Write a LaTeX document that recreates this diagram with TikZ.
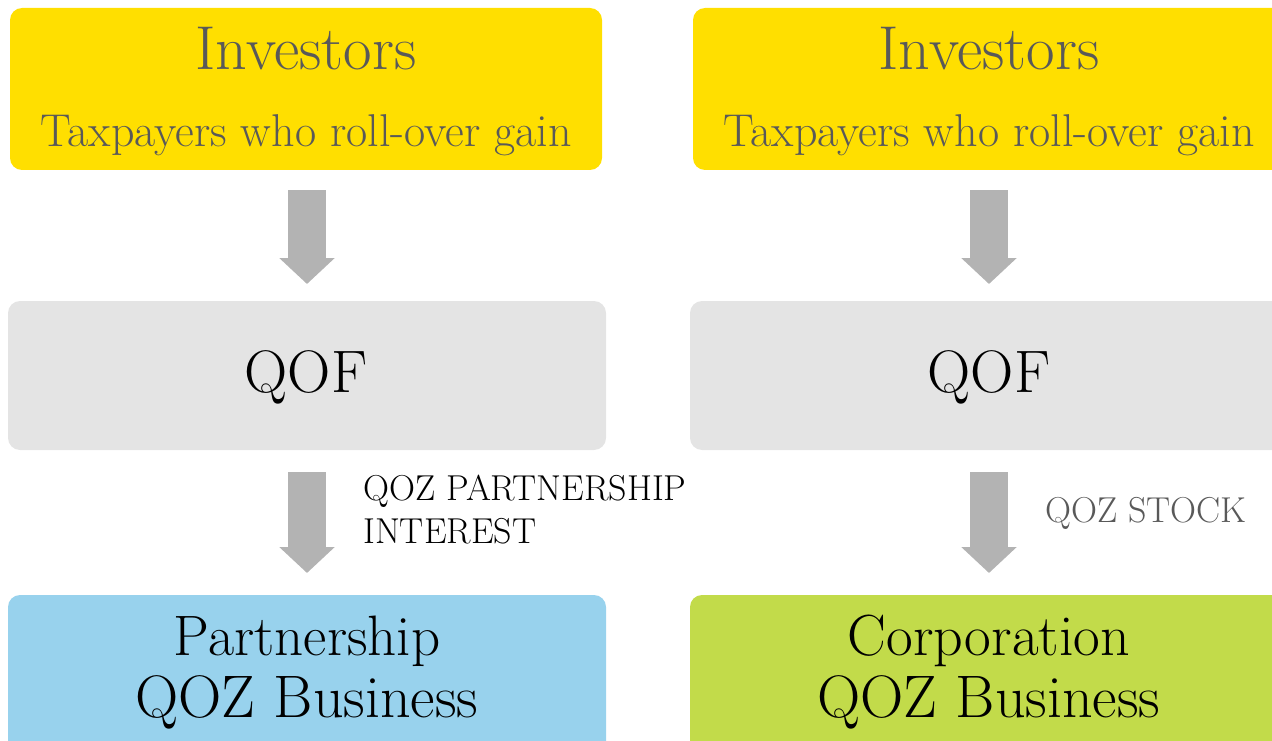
\documentclass[tikz,border=0pt]{standalone}
\usetikzlibrary{arrows.meta,calc}
\definecolor{ylw}{HTML}{FFDF00}
\definecolor{boxgray}{HTML}{E4E4E4}
\definecolor{boxblue}{HTML}{98D2ED}
\definecolor{boxgreen}{HTML}{C2DB4A}
\definecolor{txtgray}{HTML}{595959}
\definecolor{arrgray}{HTML}{B3B3B3}
\begin{document}
\begin{tikzpicture}[x=1pt,y=-1pt,
  box/.style={rounded corners=12pt, inner sep=0pt, outer sep=0pt, draw=none},
  bigtxt/.style={anchor=base, inner sep=0pt, font=\fontsize{60}{62}\selectfont},
  midtxt/.style={anchor=base, inner sep=0pt, font=\fontsize{46}{50}\selectfont},
  smalltxt/.style={anchor=base west, inner sep=0pt, font=\fontsize{36}{43}\selectfont},
  bigarr/.style={draw=arrgray, line width=38pt, -{Triangle[width=54pt,length=26pt]}}]
\useasboundingbox (0,0) rectangle (1272,741);
\clip (0,0) rectangle (1272,741);
% boxes
\node[box, fill=ylw, minimum width=592pt, minimum height=162pt] (inv1) at (306,89) {};
\node[box, fill=ylw, minimum width=592pt, minimum height=162pt] (inv2) at (989,89) {};
\node[box, fill=boxgray, minimum width=598pt, minimum height=149pt] (qof1) at (307,375.5) {};
\node[box, fill=boxgray, minimum width=598pt, minimum height=149pt] (qof2) at (989,375.5) {};
\node[box, fill=boxblue, minimum width=598pt, minimum height=160pt] (bus1) at (307,675) {};
\node[box, fill=boxgreen, minimum width=598pt, minimum height=160pt] (bus2) at (989,675) {};
% texts
\node[bigtxt, text=txtgray, font=\fontsize{62}{62}\selectfont] (t1a) at (306,70) {Investors};
\node[midtxt, text=txtgray] (t1b) at (306,147) {Taxpayers who roll-over gain};
\node[bigtxt, text=txtgray, font=\fontsize{62}{62}\selectfont] (t2a) at (989,70) {Investors};
\node[midtxt, text=txtgray] (t2b) at (989,147) {Taxpayers who roll-over gain};
\node[bigtxt] (q1) at (306,392) {QOF};
\node[bigtxt] (q2) at (989,392) {QOF};
\node[bigtxt, font=\fontsize{57}{62}\selectfont] (b1a) at (307,655) {Partnership};
\node[bigtxt] (b1b) at (307,717) {QOZ Business};
\node[bigtxt, font=\fontsize{58}{62}\selectfont] (b2a) at (989,655) {Corporation};
\node[bigtxt] (b2b) at (989,717) {QOZ Business};
\node[smalltxt] (lab1a) at (363,500) {QOZ PARTNERSHIP};
\node[smalltxt] (lab1b) at (363,543) {INTEREST};
\node[smalltxt, text=txtgray] (lab2) at (1045,522) {QOZ STOCK};
% arrows
\draw[bigarr] ($(inv1.south)+(1,20)$) -- ($(qof1.north)+(0,-17)$);
\draw[bigarr] ($(qof1.south)+(0,22)$) -- ($(bus1.north)+(0,-22)$);
\draw[bigarr] ($(inv2.south)+(0,20)$) -- ($(qof2.north)+(0,-17)$);
\draw[bigarr] ($(qof2.south)+(0,22)$) -- ($(bus2.north)+(0,-22)$);
\end{tikzpicture}
\end{document}
